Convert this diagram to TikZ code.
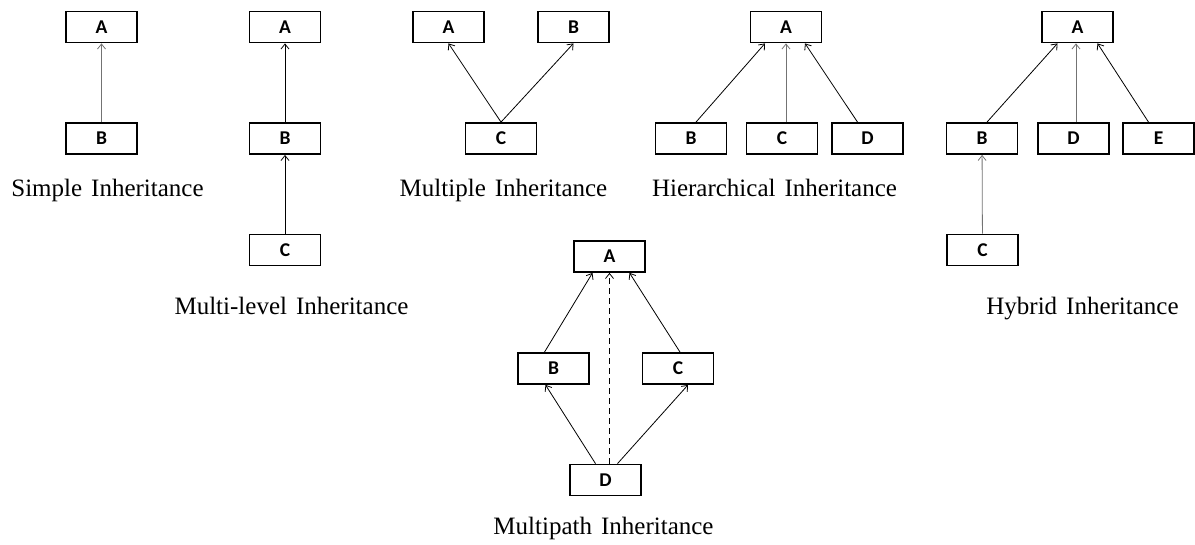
\documentclass[tikz,border=0pt]{standalone}
\usepackage{fontspec}
\setmainfont{Liberation Serif}
\newfontfamily\boxfont{Carlito}
\usetikzlibrary{arrows.meta,calc}
\newcommand\lblfont{\fontsize{25}{29}\selectfont\spaceskip=9pt\relax}
\begin{document}
\begin{tikzpicture}[x=1pt,y=-1pt,
  cls/.style={draw,line width=1.8pt,minimum width=71pt,minimum height=31pt,inner sep=0pt,
    font=\boxfont\bfseries\fontsize{19.5}{22}\selectfont},
  inh/.style={line width=0.8pt,-{Straight Barb[length=5pt,width=8pt,line width=0.8pt]}},
  inhg/.style={inh,draw=black!55},
  lbl/.style={anchor=base,inner sep=0pt,font=\lblfont}]
\useasboundingbox (0,0) rectangle (1195,545);
% Simple
\node[cls] (sA) at (101.5,27) {A};
\node[cls] (sB) at (101.5,138.5) {B};
\draw[inhg] (sB) -- (sA);
\node[lbl] (sL) at (107.5,197) {Simple Inheritance};
% Multi-level
\node[cls] (mA) at (285,27) {A};
\node[cls] (mB) at (285,138.5) {B};
\node[cls] (mC) at (285,250) {C};
\draw[inh] (mB) -- (mA);
\draw[inh] (mC) -- (mB);
\node[lbl] (mL) at (291.5,315) {Multi-level Inheritance};
% Multiple
\node[cls] (pA) at (448.5,27) {A};
\node[cls] (pB) at (573.5,27) {B};
\node[cls] (pC) at (501,138.5) {C};
\draw[inh] (pC.north) -- (pA.south);
\draw[inh] (pC.north) -- (pB.south);
\node[lbl] (pL) at (503.5,197) {Multiple Inheritance};
% Hierarchical
\node[cls] (hA) at (786,27) {A};
\node[cls] (hB) at (691,138.5) {B};
\node[cls] (hC) at (782,138.5) {C};
\node[cls] (hD) at (867.5,138.5) {D};
\draw[inh] ($(hB.north)+(5,0)$) -- ($(hA.south)+(-21,0)$);
\draw[inhg] (hC.north -| hA.south) -- (hA.south);
\draw[inh] ($(hD.north)+(-10,0)$) -- ($(hA.south)+(19,0)$);
\node[lbl] (hL) at (774.5,197) {Hierarchical Inheritance};
% Hybrid
\node[cls] (yA) at (1077.5,27) {A};
\node[cls] (yB) at (982,138.5) {B};
\node[cls] (yD) at (1073.5,138.5) {D};
\node[cls] (yE) at (1158.5,138.5) {E};
\node[cls] (yC) at (982.5,250) {C};
\draw[inh] ($(yB.north)+(5,0)$) -- ($(yA.south)+(-20,0)$);
\draw[inhg] ($(yD.north)+(2.5,0)$) -- ($(yA.south)+(-1.5,0)$);
\draw[inh] ($(yE.north)+(-10,0)$) -- ($(yA.south)+(20,0)$);
\draw[inhg] (yC) -- (yB);
\node[lbl] (yL) at (1082.5,315) {Hybrid Inheritance};
% Multipath
\node[cls] (tA) at (609.5,256.5) {A};
\node[cls] (tB) at (553.5,368.5) {B};
\node[cls] (tC) at (678,368.5) {C};
\node[cls] (tD) at (605.5,480) {D};
\draw[inh] ($(tB.north)+(-9,0)$) -- ($(tA.south)+(-17,0)$);
\draw[inh] ($(tC.north)+(2,0)$) -- ($(tA.south)+(20,0)$);
\draw[inh,dash pattern=on 6pt off 4pt] (tD.north -| tA.south) -- (tA.south);
\draw[inh] ($(tD.north)+(-10,0)$) -- ($(tB.south)+(-8,0)$);
\draw[inh] ($(tD.north)+(12,0)$) -- ($(tC.south)+(10,0)$);
\node[lbl] (tL) at (603.5,534) {Multipath Inheritance};
\end{tikzpicture}
\end{document}
